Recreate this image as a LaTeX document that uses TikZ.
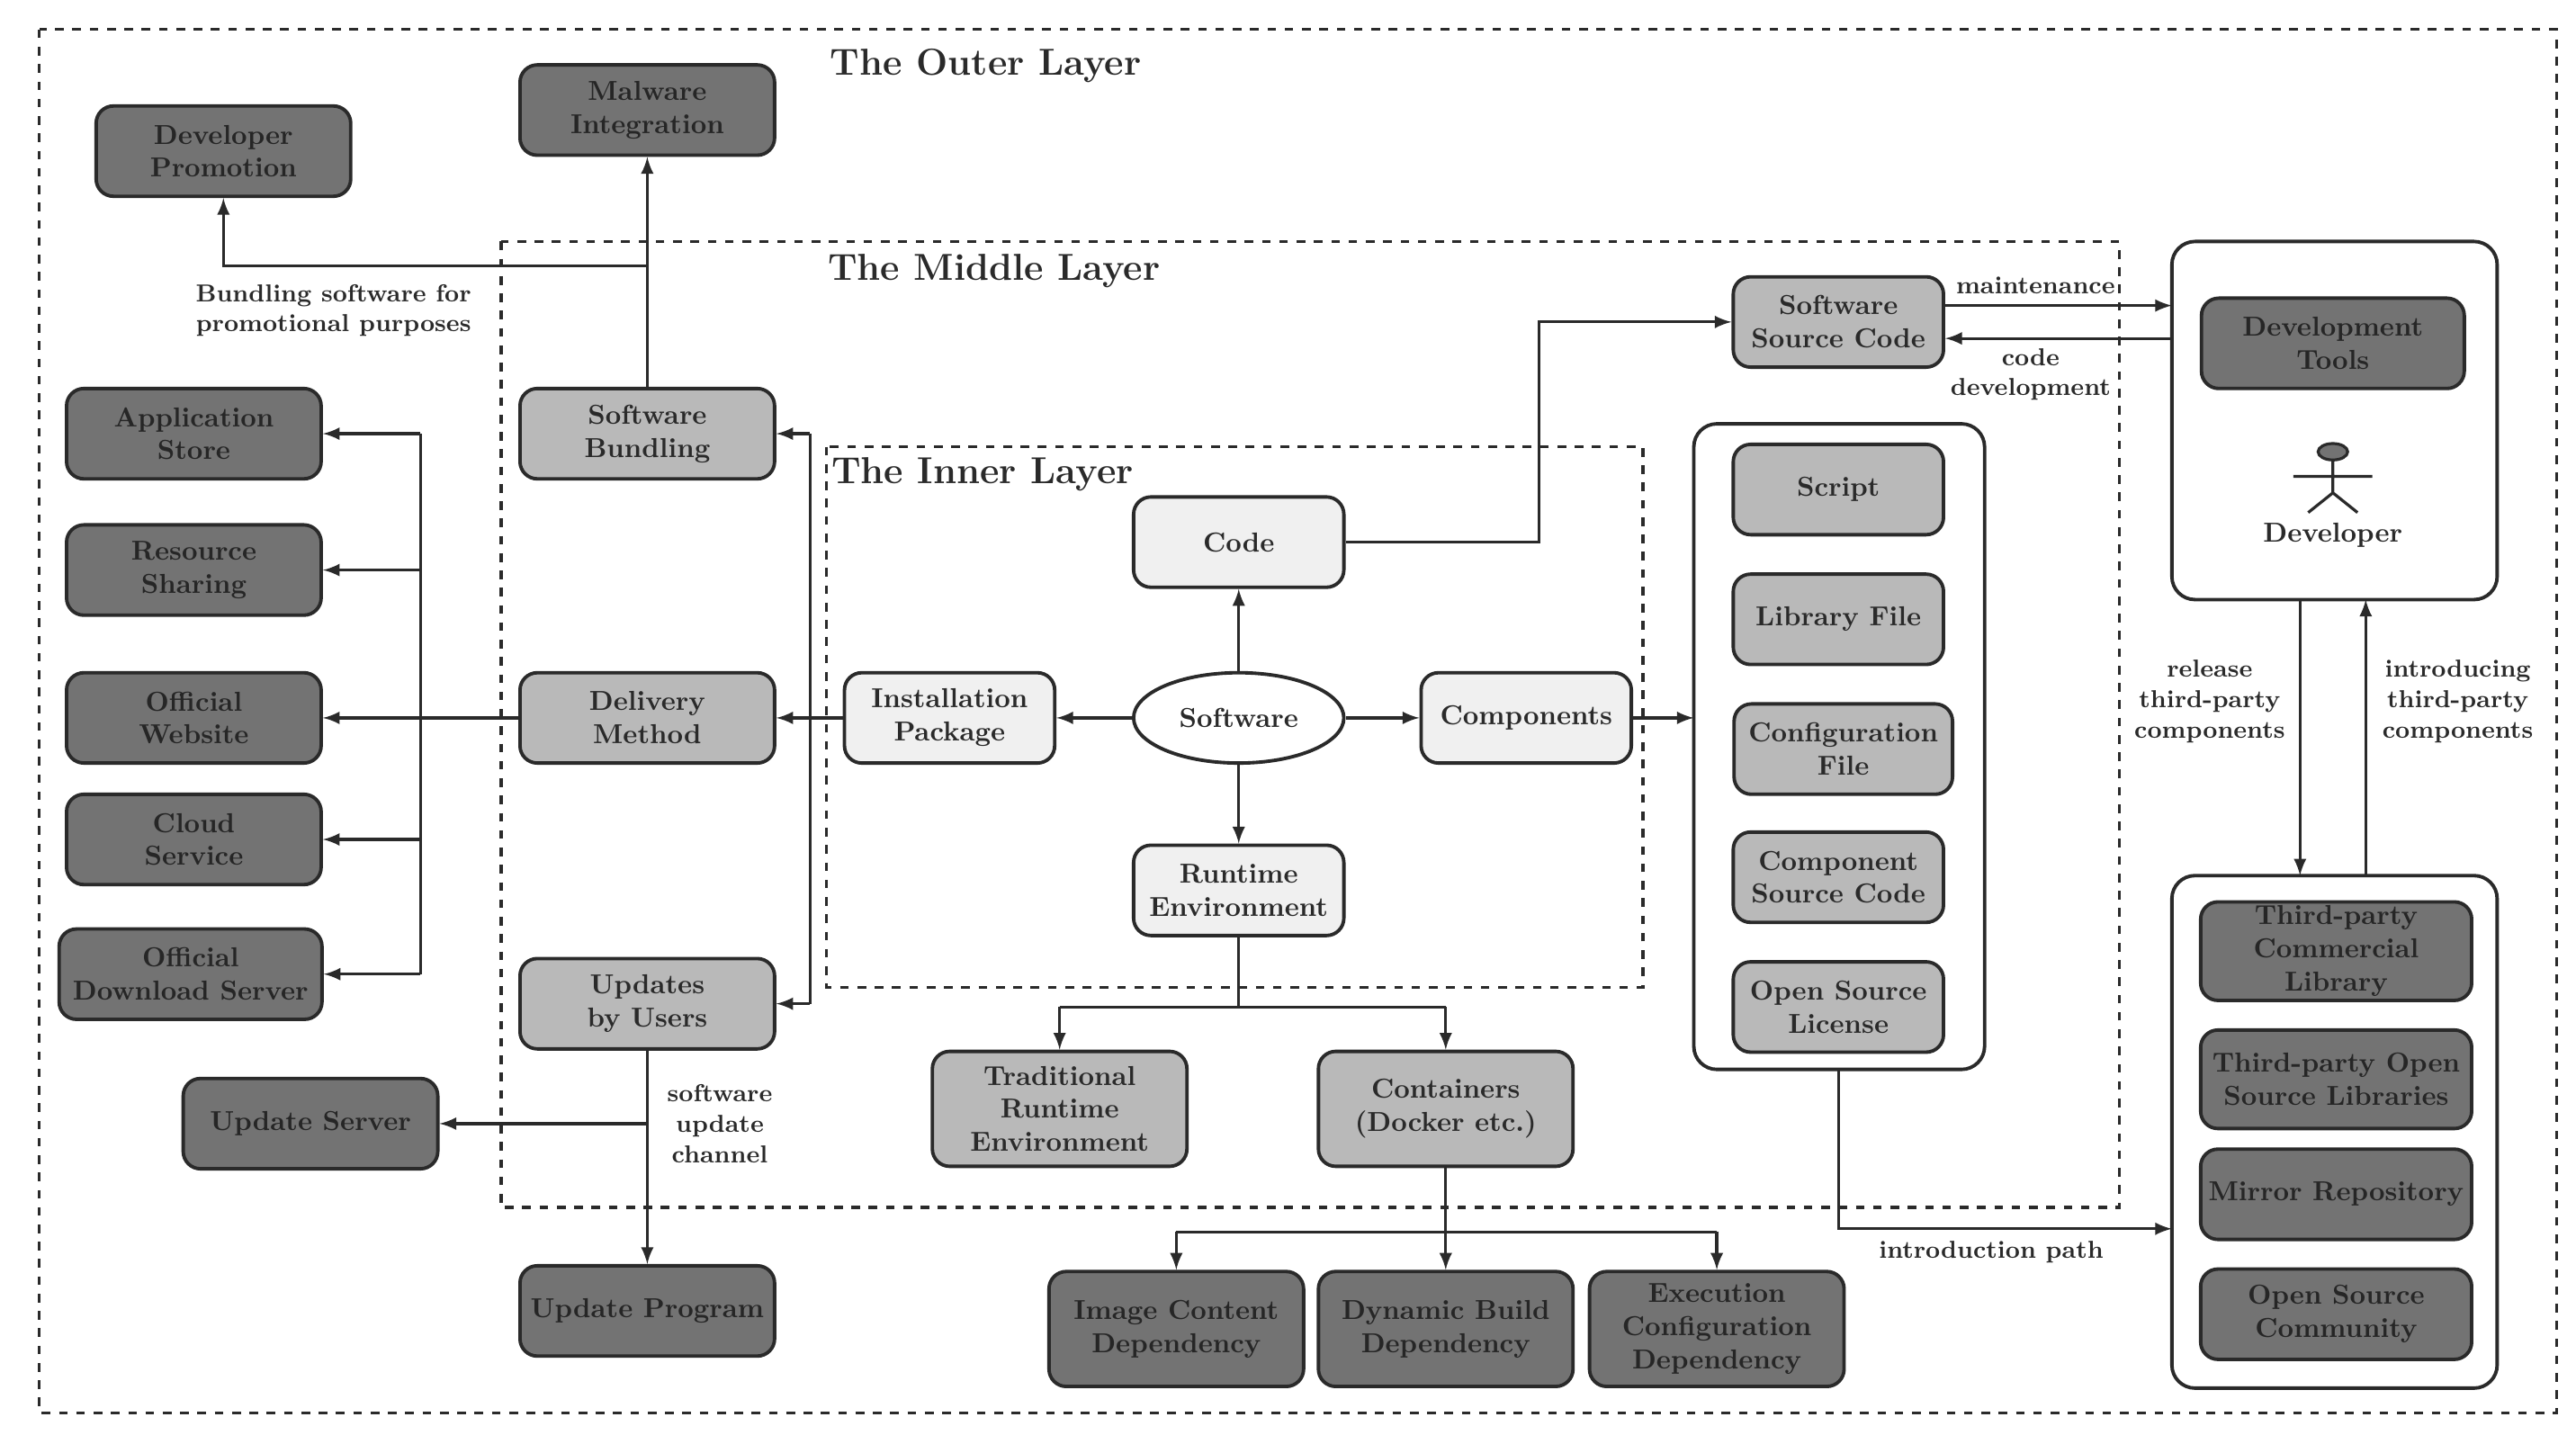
\documentclass[tikz,border=0pt]{standalone}
\usepackage{amsmath,amssymb}
\usepackage{xcolor}
\usepackage{tikz}
\usetikzlibrary{arrows}
\usetikzlibrary{shapes.geometric}
\definecolor{boxdark}{HTML}{737373}
\definecolor{boxmid}{HTML}{B9B9B9}
\definecolor{boxlight}{HTML}{F0F0F0}
\definecolor{ink}{HTML}{2A2A2A}
\tikzset{
  base/.style={draw=ink,line width=1.2pt,rounded corners=6pt,align=center,
    font=\fontsize{9.5}{11.5}\selectfont\bfseries,text=ink,inner sep=1pt,
    minimum width=3.1cm,minimum height=1.1cm},
  dark/.style={base,fill=boxdark,text=black!85},
  mid/.style={base,fill=boxmid},
  light/.style={base,fill=boxlight,minimum width=2.56cm},
  holder/.style={draw=ink,line width=1.2pt,rounded corners=8pt,fill=white},
  layer/.style={draw=ink,line width=1pt,dashed},
  title/.style={font=\fontsize{13}{15}\selectfont\bfseries,text=ink},
  lab/.style={font=\fontsize{8.5}{10.5}\selectfont\bfseries,text=ink,align=center},
  arr/.style={-latex,draw=ink,line width=1pt},
  ln/.style={draw=ink,line width=1pt}
}
\begin{document}
\begin{tikzpicture}[x=0.02cm,y=-0.02cm]
    \useasboundingbox (0,0) rectangle (1568,879);
    % layers
    \draw[layer] (24,18) rectangle (1556,860);
    \draw[layer] (305,147) rectangle (1290,735);
    \draw[layer] (503,272) rectangle (1000,601);
    \node[title] at (600,40) {The Outer Layer};
    \node[title] at (605,165) {The Middle Layer};
    \node[title] at (598,289) {The Inner Layer};
    % holders
    \draw[holder] (1031,258) rectangle (1208,651);
    \coordinate (compbox) at (1031,437);
    \coordinate (compbot) at (1119,651);
    \draw[holder] (1322,147) rectangle (1520,365);
    \draw[holder] (1322,533) rectangle (1520,845);
    % outer nodes
    \node[dark] (promo) at (136,92) {Developer\\Promotion};
    \node[dark] (malware) at (394,67) {Malware\\Integration};
    \node[dark] (appstore) at (118,264) {Application\\Store};
    \node[dark] (share) at (118,347) {Resource\\Sharing};
    \node[dark] (website) at (118,437) {Official\\Website};
    \node[dark] (cloud) at (118,511) {Cloud\\Service};
    \node[dark,minimum width=3.2cm] (download) at (116,593) {Official\\Download Server};
    \node[dark] (updserver) at (189,684) {Update Server};
    \node[dark] (updprog) at (394,798) {Update Program};
    % middle nodes
    \node[mid] (bundling) at (394,264) {Software\\Bundling};
    \node[mid] (delivery) at (394,437) {Delivery\\Method};
    \node[mid] (updates) at (394,611) {Updates\\by Users};
    \node[mid,minimum height=1.4cm] (traditional) at (645,675) {Traditional\\Runtime\\Environment};
    \node[mid,minimum height=1.4cm] (containers) at (880,675) {Containers\\(Docker etc.)};
    \node[mid,minimum width=2.56cm] (srccode) at (1119,196) {Software\\Source Code};
    % inner nodes
    \node[light] (install) at (578,437) {Installation\\Package};
    \node[base,ellipse,fill=white,rounded corners=0pt,minimum width=2.56cm] (software) at (754,437) {Software};
    \node[light] (code) at (754,330) {Code};
    \node[light] (runtime) at (754,542) {Runtime\\Environment};
    \node[light] (components) at (929,437) {Components};
    % dependency nodes
    \node[dark,minimum height=1.4cm] (image) at (716,809) {Image Content\\Dependency};
    \node[dark,minimum height=1.4cm] (dynamic) at (880,809) {Dynamic Build\\Dependency};
    \node[dark,minimum height=1.4cm] (exec) at (1045,809) {Execution\\Configuration\\Dependency};
    % component parts
    \node[mid,minimum width=2.56cm] (script) at (1119,298) {Script};
    \node[mid,minimum width=2.56cm] (library) at (1119,377) {Library File};
    \node[mid,minimum width=2.66cm] (config) at (1122,456) {Configuration\\File};
    \node[mid,minimum width=2.56cm] (compsrc) at (1119,534) {Component\\Source Code};
    \node[mid,minimum width=2.56cm] (license) at (1119,613) {Open Source\\License};
    % developer
    \node[dark,minimum width=3.2cm] (devtools) at (1420,209) {Development\\Tools};
    \draw[ln,fill=boxdark] (1420,275) ellipse (9 and 5);
    \draw[ln] (1420,280) -- (1420,300) (1396,290) -- (1444,290)
      (1405,312) -- (1420,300) -- (1435,312);
    \node[lab,font=\fontsize{9.5}{11.5}\selectfont\bfseries] (developer) at (1420,326) {Developer};
    \coordinate (devtop) at (1322,186);
    \coordinate (devlow) at (1322,206);
    % third party
    \node[dark,minimum width=3.3cm,minimum height=1.2cm] (commercial) at (1422,579) {Third-party\\Commercial\\Library};
    \node[dark,minimum width=3.3cm,minimum height=1.2cm] (opensrc) at (1422,657) {Third-party Open\\Source Libraries};
    \node[dark,minimum width=3.3cm] (mirror) at (1422,727) {Mirror Repository};
    \node[dark,minimum width=3.3cm] (community) at (1422,800) {Open Source\\Community};
    \coordinate (tpleft) at (1322,748);
    % inner connectors
    \draw[arr] (software) -- (code);
    \draw[arr] (software) -- (install);
    \draw[arr] (software) -- (components);
    \draw[arr] (software) -- (runtime);
    \draw[arr] (components) -- (compbox);
    \draw[arr] (code.east) -- (937,330) -- (937,196) -- (srccode.west);
    \draw[arr] (srccode.east |- devtop) -- (devtop);
    \draw[arr] (devlow) -- (srccode.east |- devlow);
    \node[lab] at (1239,174) {maintenance};
    \node[lab] at (1236,228) {code\\development};
    % delivery
    \draw[arr] (install) -- (delivery);
    \draw[ln] (493,264) -- (493,611);
    \draw[arr] (493,264) -- (bundling.east);
    \draw[arr] (493,611) -- (updates.east);
    \draw[arr] (bundling) -- (malware);
    \draw[arr] (394,162) -- (136,162) -- (promo.south);
    \node[lab] at (203,189) {Bundling software for\\promotional purposes};
    \draw[arr] (delivery) -- (website);
    \draw[ln] (256,264) -- (256,593);
    \draw[arr] (256,264) -- (appstore.east);
    \draw[arr] (256,347) -- (share.east);
    \draw[arr] (256,511) -- (cloud.east);
    \draw[arr] (256,593) -- (download.east);
    \draw[arr] (updates) -- (updprog);
    \draw[arr] (394,684) -- (updserver.east);
    \node[lab,anchor=west] at (400,684) {software\\update\\channel};
    % runtime
    \draw[ln] (runtime.south) -- (754,613) (645,613) -- (880,613);
    \draw[arr] (645,613) -- (traditional.north);
    \draw[arr] (880,613) -- (containers.north);
    \draw[ln] (containers.south) -- (880,750) (716,750) -- (1045,750);
    \draw[arr] (716,750) -- (image.north);
    \draw[arr] (880,750) -- (dynamic.north);
    \draw[arr] (1045,750) -- (exec.north);
    % third-party path
    \draw[arr] (compbot) -- (1119,748) -- (tpleft);
    \node[lab] at (1212,762) {introduction path};
    \draw[arr] (1400,365) -- (1400,533);
    \draw[arr] (1440,533) -- (1440,365);
    \node[lab] at (1345,427) {release\\third-party\\components};
    \node[lab] at (1496,427) {introducing\\third-party\\components};
\end{tikzpicture}
\end{document}
